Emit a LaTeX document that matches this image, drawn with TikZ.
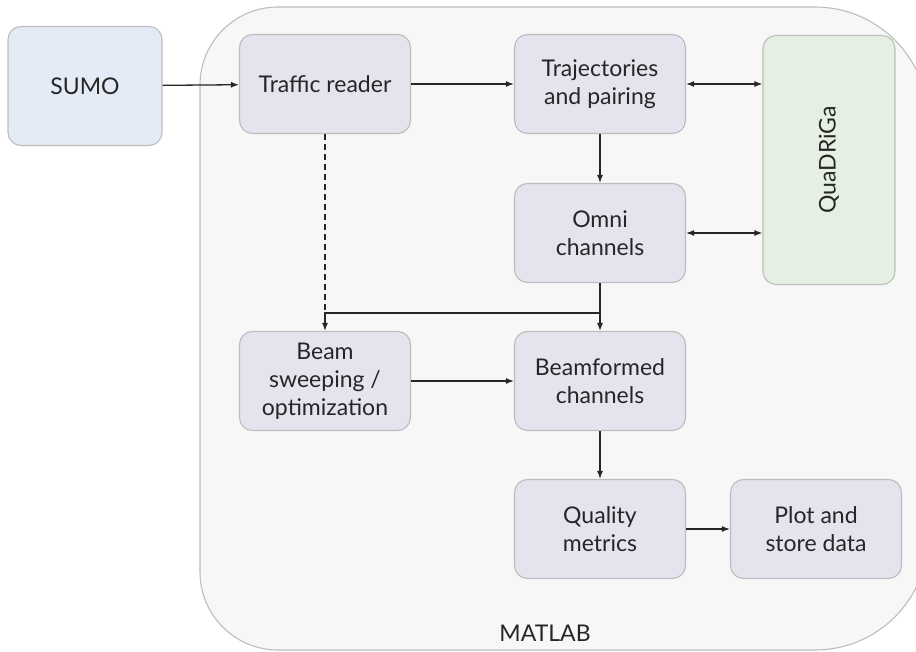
\documentclass[tikz,border=0pt]{standalone}
\usepackage{fontspec}
\setmainfont{Lato}
\usetikzlibrary{arrows.meta}

\definecolor{box_fill}{HTML}{E6E2EE}
\definecolor{box_line}{HTML}{BDBDBD}
\definecolor{sumo_fill}{HTML}{E4EBF7}
\definecolor{quad_fill}{HTML}{E5F0E3}
\definecolor{matlab_fill}{HTML}{F7F7F7}
\definecolor{text_col}{HTML}{262626}

\begin{document}
\begin{tikzpicture}[x=1pt,y=-1pt,
	main_node/.style={rectangle,rounded corners=13pt,fill=box_fill,draw=box_line,line width=1.1pt,
		minimum width=171pt,minimum height=99pt,align=center,text=text_col,font=\fontsize{23}{28}\selectfont},
	arrow_line/.style={-{Latex[length=8pt,width=6pt]},line width=1.3pt,draw=black!85},
	both_line/.style={{Latex[length=8pt,width=6pt]}-{Latex[length=8pt,width=6pt]},line width=1.3pt,draw=black!85}]

		\useasboundingbox (0,0) rectangle (916,652);
		\begin{scope}
		\clip (0,0) rectangle (916,652);
		\draw[fill=matlab_fill,draw=box_line,line width=1.1pt]
			(200,330) [rounded corners=78pt] -- (200,7) -- (560,7) [rounded corners=113pt] -- (928,7)
			-- (928,650) -- (560,650) [rounded corners=78pt] -- (200,650) -- cycle;
		\end{scope}

		\node[main_node,fill=sumo_fill,minimum width=154pt,minimum height=119pt] (sumo) at (85,86) {SUMO};
		\node[main_node] (reader) at (325,84) {Traffic reader};
		\node[main_node] (traj) at (600,84) {Trajectories\\and pairing};
		\node[main_node,fill=quad_fill,rotate=90,minimum width=249pt,minimum height=132pt] (quad) at (829,160) {QuaDRiGa};
		\node[main_node] (omni) at (600,233) {Omni\\channels};
		\node[main_node] (sweep) at (325,381) {Beam\\sweeping /\\optimization};
		\node[main_node] (beamf) at (600,381) {Beamformed\\channels};
		\node[main_node] (qual) at (600,529) {Quality\\metrics};
		\node[main_node] (plot) at (816,529) {Plot and\\store data};
		\node[text=text_col,font=\fontsize{23}{28}\selectfont] (matlab) at (545,633) {MATLAB};

		\coordinate (split) at (600,313);
		\coordinate (join) at (325,313);

		\draw[arrow_line] (sumo) -- (reader);
		\draw[arrow_line] (reader) -- (traj);
		\draw[both_line] (traj.east) -- (traj.east -| quad.north);
		\draw[both_line] (omni.east) -- (omni.east -| quad.north);
		\draw[arrow_line] (traj) -- (omni);
		\draw[line width=1.3pt,draw=black!85] (omni) -- (split);
		\draw[arrow_line] (split) -- (beamf);
		\draw[arrow_line] (split) -- (join) -- (sweep);
		\draw[line width=1.3pt,draw=black!85,dash pattern=on 6pt off 4pt] (reader) -- (join);
		\draw[arrow_line] (sweep) -- (beamf);
		\draw[arrow_line] (beamf) -- (qual);
		\draw[arrow_line] (qual) -- (plot);
		\end{tikzpicture}
\end{document}
